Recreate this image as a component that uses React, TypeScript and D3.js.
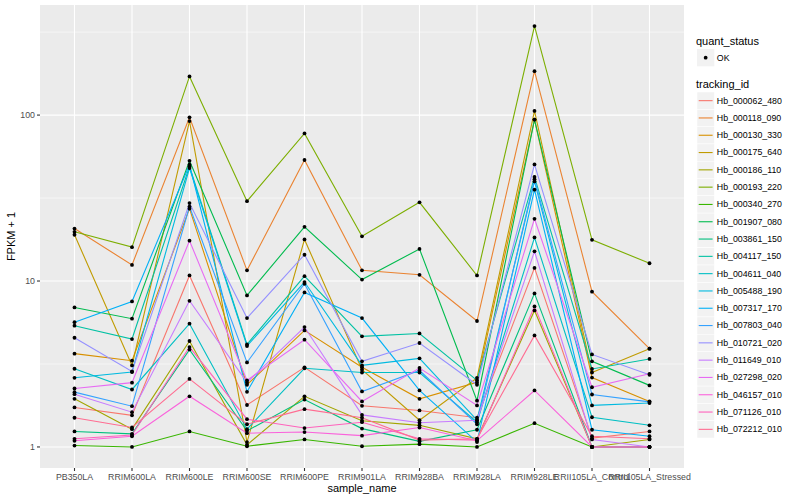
import * as d3 from 'd3'
import React from 'react'

const samples = [
  'PB350LA', 'RRIM600LA', 'RRIM600LE', 'RRIM600SE', 'RRIM600PE', 'RRIM901LA',
  'RRIM928BA', 'RRIM928LA', 'RRIM928LE', 'RRII105LA_Control', 'RRII105LA_Stressed',
]

const trackingIds = [
  'Hb_000062_480', 'Hb_000118_090', 'Hb_000130_330', 'Hb_000175_640', 'Hb_000186_110',
  'Hb_000193_220', 'Hb_000340_270', 'Hb_001907_080', 'Hb_003861_150', 'Hb_004117_150',
  'Hb_004611_040', 'Hb_005488_190', 'Hb_007317_170', 'Hb_007803_040', 'Hb_010721_020',
  'Hb_011649_010', 'Hb_027298_020', 'Hb_046157_010', 'Hb_071126_010', 'Hb_072212_010',
]

// FPKM + 1, one row per tracking_id, one column per sample
const fpkm = [
  [1.73, 1.55, 10.8, 1.79, 3.02, 1.77, 1.66, 1.5, 12.0, 1.13, 1.24],
  [20.7, 12.5, 97, 11.6, 53.6, 11.6, 10.9, 5.74, 184, 8.63, 3.91],
  [3.65, 3.31, 27.3, 2.37, 5.04, 3.02, 1.95, 2.45, 94, 2.62, 1.88],
  [19.0, 3.1, 92, 1.07, 17.8, 2.92, 1.45, 2.61, 106, 2.81, 3.91],
  [1.95, 1.28, 4.35, 1.03, 2.02, 1.44, 1.35, 1.12, 6.65, 1.0, 1.11],
  [19.8, 16, 171, 30.3, 77.5, 18.6, 29.8, 10.8, 344, 17.7, 12.8],
  [1.02, 1.0, 1.24, 1.01, 1.11, 1.01, 1.04, 1.0, 1.39, 1.0, 1.0],
  [6.93, 5.93, 53, 8.19, 21.2, 10.2, 15.6, 1.9, 94, 3.28, 2.35],
  [1.24, 1.2, 3.86, 1.25, 1.93, 1.29, 1.08, 1.27, 8.42, 1.0, 1.0],
  [5.38, 4.47, 49, 4.15, 10.7, 4.64, 4.83, 2.52, 42.4, 2.95, 3.39],
  [2.96, 2.22, 5.53, 1.28, 2.98, 2.81, 2.81, 1.41, 18.3, 1.51, 1.35],
  [2.61, 2.83, 47.9, 4.06, 9.86, 3.1, 3.42, 1.45, 39.8, 1.78, 1.84],
  [5.65, 7.53, 50.2, 2.15, 8.54, 5.98, 2.19, 1.07, 35.5, 1.27, 1.16],
  [2.14, 1.76, 28.1, 3.23, 9.63, 2.16, 2.89, 1.37, 41.1, 2.07, 1.87],
  [4.55, 2.85, 29.5, 5.98, 14.4, 3.28, 4.23, 2.37, 50.4, 3.61, 2.72],
  [2.08, 1.62, 7.6, 2.45, 5.28, 1.56, 1.4, 1.45, 15.1, 1.11, 1.0],
  [2.25, 2.44, 17.5, 2.52, 4.43, 1.88, 2.99, 1.78, 23.7, 2.29, 2.76],
  [1.09, 1.16, 2.02, 1.21, 1.23, 1.17, 1.31, 1.09, 2.19, 1.0, 1.0],
  [1.12, 1.18, 4.0, 1.47, 1.3, 1.41, 1.12, 1.1, 7.03, 1.0, 1.0],
  [1.5, 1.31, 2.57, 1.37, 1.69, 1.5, 1.1, 1.12, 4.7, 1.16, 1.12],
]

const palette = [
  '#F8766D', '#EA8331', '#D89000', '#C09B00', '#A3A500', '#7CAE00', '#39B600', '#00BB4E',
  '#00BF7D', '#00C1A3', '#00BFC4', '#00BAE0', '#00B0F6', '#35A2FF', '#9590FF', '#C77CFF',
  '#E76BF3', '#FA62DB', '#FF62BC', '#FF6C91',
]

const yBreaks = [1, 10, 100]
const yMinor = [Math.sqrt(10), Math.sqrt(1000), Math.sqrt(100000)]

const font = '"Liberation Sans", Arial, Helvetica, sans-serif'

const App = () => {
  const width = 800
  const height = 500
  const panel = { left: 40, right: 684, top: 5, bottom: 468 }

  const x = d3.scalePoint().domain(samples).range([panel.left, panel.right]).padding(0.6)

  const all = fpkm.flat()
  const lo = Math.log10(d3.min(all))
  const hi = Math.log10(d3.max(all))
  const pad = (hi - lo) * 0.05
  const y = d3
    .scaleLog()
    .domain([Math.pow(10, lo - pad), Math.pow(10, hi + pad)])
    .range([panel.bottom, panel.top])

  const line = d3
    .line<number>()
    .x((d, i) => x(samples[i]))
    .y((d) => y(d))

  const legendX = 697
  const keySize = 17.3

  return (
    <div style={{ position: 'fixed', left: 0, top: 0 }}>
      <svg width={width} height={height} style={{ display: 'block', background: 'white' }} fontFamily={font}>
        <rect
          x={panel.left}
          y={panel.top}
          width={panel.right - panel.left}
          height={panel.bottom - panel.top}
          fill="#EBEBEB"
        />
        {yMinor.map((v) => (
          <line key={'mn' + v} x1={panel.left} x2={panel.right} y1={y(v)} y2={y(v)} stroke="white" strokeWidth={0.55} />
        ))}
        {yBreaks.map((v) => (
          <line key={'mj' + v} x1={panel.left} x2={panel.right} y1={y(v)} y2={y(v)} stroke="white" strokeWidth={1.1} />
        ))}
        {samples.map((s) => (
          <line key={'vx' + s} x1={x(s)} x2={x(s)} y1={panel.top} y2={panel.bottom} stroke="white" strokeWidth={1.1} />
        ))}

        {fpkm.map((row, i) => (
          <path key={'l' + i} d={line(row)} fill="none" stroke={palette[i]} strokeWidth={1.1} />
        ))}
        {fpkm.map((row, i) =>
          row.map((v, j) => <circle key={`p${i}-${j}`} cx={x(samples[j])} cy={y(v)} r={1.9} fill="black" />),
        )}

        {/* y axis */}
        {yBreaks.map((v) => (
          <g key={'yt' + v}>
            <line x1={panel.left - 3} x2={panel.left} y1={y(v)} y2={y(v)} stroke="#333333" strokeWidth={1.1} />
            <text x={panel.left - 5} y={y(v)} dy="0.33em" textAnchor="end" fontSize={8.8} fill="#4D4D4D">
              {v}
            </text>
          </g>
        ))}
        <text
          transform={`translate(15 ${(panel.top + panel.bottom) / 2}) rotate(-90)`}
          textAnchor="middle"
          fontSize={11}
          fill="black"
        >
          FPKM + 1
        </text>

        {/* x axis */}
        {samples.map((s) => (
          <g key={'xt' + s}>
            <line x1={x(s)} x2={x(s)} y1={panel.bottom} y2={panel.bottom + 3} stroke="#333333" strokeWidth={1.1} />
            <text x={x(s)} y={panel.bottom + 12} textAnchor="middle" fontSize={8.8} fill="#4D4D4D">
              {s}
            </text>
          </g>
        ))}
        <text x={(panel.left + panel.right) / 2} y={492} textAnchor="middle" fontSize={11} fill="black">
          sample_name
        </text>

        {/* legend: quant_status */}
        <text x={legendX - 1} y={44.5} fontSize={11} fill="black">
          quant_status
        </text>
        <rect x={legendX} y={49} width={keySize} height={keySize} fill="#F2F2F2" />
        <circle cx={legendX + keySize / 2} cy={49 + keySize / 2} r={1.9} fill="black" />
        <text x={legendX + keySize + 2.5} y={49 + keySize / 2} dy="0.33em" fontSize={8.8} fill="black">
          OK
        </text>

        {/* legend: tracking_id */}
        <text x={legendX - 1} y={88} fontSize={11} fill="black">
          tracking_id
        </text>
        {trackingIds.map((id, i) => {
          const top = 92 + i * keySize
          return (
            <g key={'lg' + id}>
              <rect x={legendX} y={top} width={keySize} height={keySize} fill="#F2F2F2" stroke="white" strokeWidth={0.5} />
              <line
                x1={legendX + 1.7}
                x2={legendX + keySize - 1.7}
                y1={top + keySize / 2}
                y2={top + keySize / 2}
                stroke={palette[i]}
                strokeWidth={1.1}
              />
              <text x={legendX + keySize + 2.5} y={top + keySize / 2} dy="0.33em" fontSize={8.8} fill="black">
                {id}
              </text>
            </g>
          )
        })}
      </svg>
    </div>
  )
}

export default App
